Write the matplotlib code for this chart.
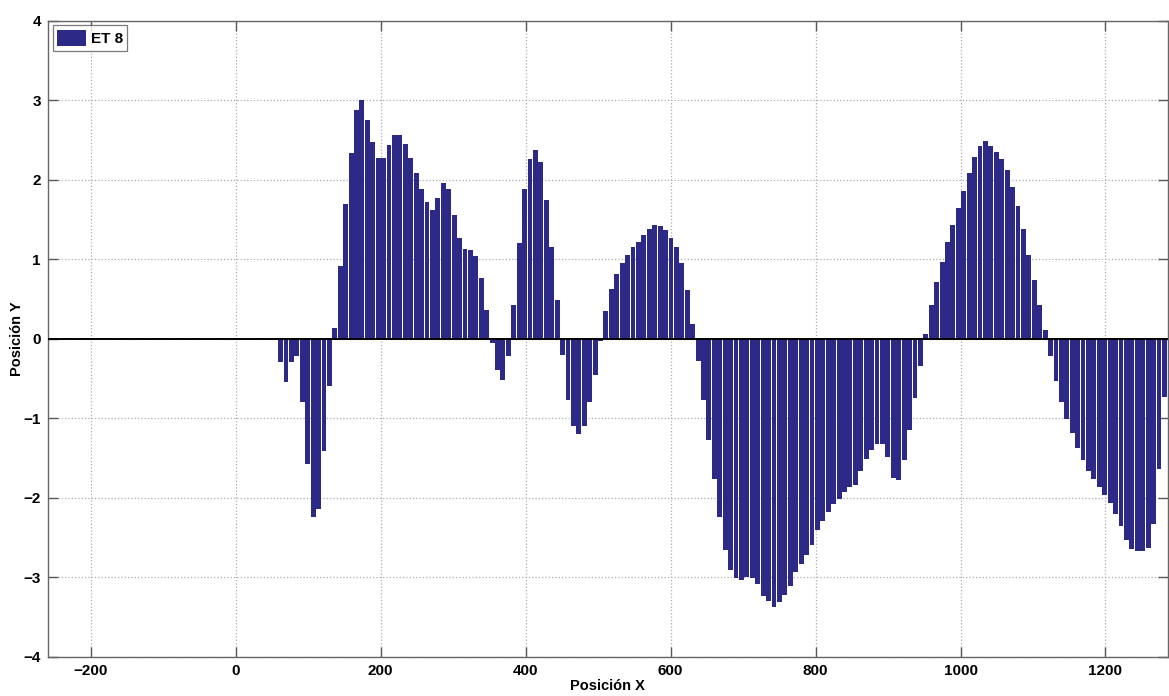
import numpy as np
import matplotlib.pyplot as plt

plt.rcParams['font.family'] = ['Liberation Sans', 'DejaVu Sans']

# bar heights, one per sample, left to right
posicion_y = [
    -0.29, -0.54, -0.29, -0.22, -0.80, -1.57, -2.24, -2.14, -1.41, -0.59,
    0.13, 0.92, 1.69, 2.34, 2.88, 3.00, 2.75, 2.47, 2.28, 2.28,
    2.44, 2.57, 2.57, 2.45, 2.28, 2.09, 1.88, 1.72, 1.62, 1.77,
    1.96, 1.88, 1.56, 1.27, 1.13, 1.12, 1.04, 0.77, 0.36, -0.05,
    -0.39, -0.52, -0.22, 0.42, 1.20, 1.88, 2.26, 2.38, 2.22, 1.75,
    1.15, 0.49, -0.21, -0.77, -1.10, -1.20, -1.10, -0.80, -0.45, -0.03,
    0.35, 0.63, 0.82, 0.95, 1.06, 1.15, 1.22, 1.30, 1.38, 1.43,
    1.42, 1.37, 1.27, 1.15, 0.95, 0.62, 0.18, -0.28, -0.77, -1.27,
    -1.76, -2.24, -2.66, -2.91, -3.01, -3.04, -3.00, -3.01, -3.09, -3.24,
    -3.30, -3.38, -3.31, -3.22, -3.11, -2.93, -2.84, -2.72, -2.59, -2.41,
    -2.29, -2.18, -2.08, -2.01, -1.93, -1.86, -1.84, -1.66, -1.51, -1.40,
    -1.33, -1.33, -1.49, -1.75, -1.78, -1.53, -1.15, -0.74, -0.34, 0.06,
    0.42, 0.72, 0.97, 1.22, 1.43, 1.65, 1.86, 2.08, 2.29, 2.43,
    2.49, 2.42, 2.35, 2.26, 2.12, 1.91, 1.67, 1.38, 1.06, 0.74,
    0.42, 0.11, -0.22, -0.53, -0.79, -1.01, -1.18, -1.37, -1.52, -1.66,
    -1.76, -1.86, -1.97, -2.07, -2.20, -2.36, -2.53, -2.64, -2.67, -2.67,
    -2.63, -2.33, -1.64, -0.73,
]
x0 = 62.0
paso = 7.48
posicion_x = x0 + paso * np.arange(len(posicion_y))

xticks = [-200, 0, 200, 400, 600, 800, 1000, 1200]
yticks = [-4, -3, -2, -1, 0, 1, 2, 3, 4]

color_barra = '#2d2a87'

fig = plt.figure(figsize=(11.69, 6.96), dpi=100)
ax = fig.add_axes([0.041, 0.0565, 0.958, 0.9135])

ax.bar(posicion_x, posicion_y, width=paso * 0.9, color=color_barra,
       linewidth=0, label='ET 8', zorder=3)
ax.axhline(0, color='black', linewidth=1.4, zorder=4)

ax.set_xlim(-259, 1286)
ax.set_ylim(-4, 4)
ax.set_xticks(xticks)
ax.set_yticks(yticks)
ax.grid(True, linestyle=':', color='0.68', linewidth=0.9, zorder=0)
ax.tick_params(direction='in', length=7, width=1, top=True, right=True,
               labelsize=11, color='0.35', pad=5)
for lbl in ax.get_xticklabels() + ax.get_yticklabels():
    lbl.set_fontweight('bold')
for sp in ax.spines.values():
    sp.set_color('0.4')
    sp.set_linewidth(1.0)

ax.set_xlabel('Posición X', fontsize=10.5, fontweight='bold', labelpad=1)
ax.set_ylabel('Posición Y', fontsize=10.5, fontweight='bold')
ax.yaxis.set_label_coords(-0.021, 0.5)

leg = ax.legend(loc='upper left', fontsize=11, frameon=True, fancybox=False,
                handlelength=1.9, handleheight=1.2, borderpad=0.3,
                handletextpad=0.3, borderaxespad=0.3)
leg.get_frame().set_edgecolor('0.35')
leg.get_frame().set_linewidth(0.9)
for t in leg.get_texts():
    t.set_fontweight('bold')

fig.savefig('out.png', dpi=100)
